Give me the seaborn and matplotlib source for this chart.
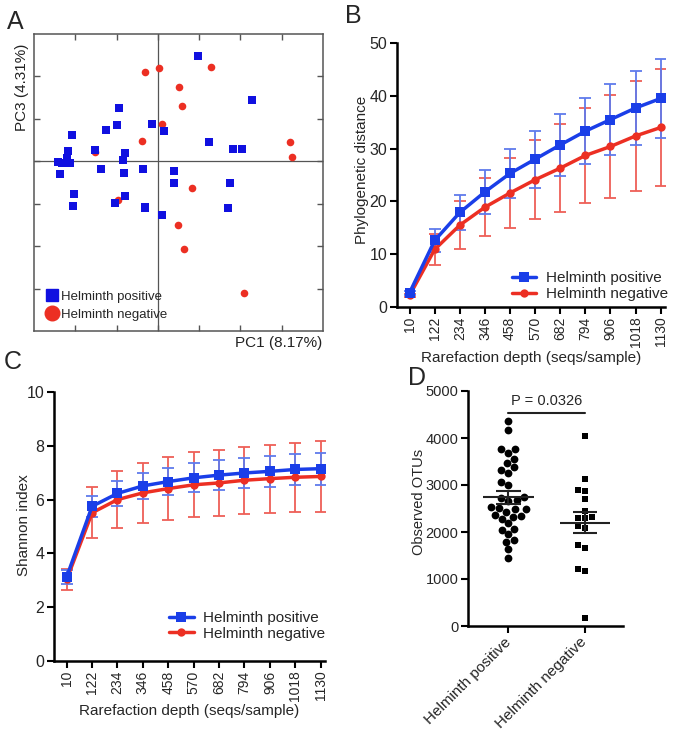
import matplotlib
matplotlib.use('Agg')
import matplotlib.pyplot as plt
import numpy as np
import pandas as pd
import seaborn as sns
from matplotlib.lines import Line2D

BLUE = '#1a3ee8'
RED = '#ec2f23'
BLUE_ERR = '#5f7bec'
RED_ERR = '#ee5f57'

# Panel A: PCoA coordinates (PC1, PC3)
pc1_pos = [0.097, 0.227, -0.095, -0.098, -0.126, -0.013, 0.014, -0.208, 0.124, 0.181,
           0.205, -0.217, -0.152, -0.080, -0.084, -0.221, -0.243, -0.233, -0.213, -0.238,
           -0.138, -0.082, -0.035, 0.039, 0.039, 0.175, -0.202, -0.080, -0.206, -0.105,
           -0.031, -0.031, 0.010, 0.169]
pc3_pos = [0.247, 0.145, 0.126, 0.085, 0.074, 0.089, 0.071, 0.063, 0.045, 0.030,
           0.028, 0.024, 0.027, 0.020, 0.002, 0.007, -0.002, -0.005, -0.005, -0.030,
           -0.019, -0.028, -0.019, -0.023, -0.051, -0.052, -0.076, -0.081, -0.106, -0.099,
           -0.107, -0.111, -0.126, -0.111]
pc1_neg = [-0.031, 0.002, 0.129, 0.052, 0.058, 0.010, -0.039, -0.153, 0.320, 0.324,
           0.082, -0.096, 0.049, 0.063, 0.209]
pc3_neg = [0.211, 0.220, 0.223, 0.175, 0.130, 0.089, 0.048, 0.021, 0.046, 0.010,
           -0.062, -0.091, -0.149, -0.207, -0.311]

# Panels B and C: rarefaction curves (mean and error)
depths = ['10', '122', '234', '346', '458', '570', '682', '794', '906', '1018', '1130']
pd_pos_mean = [2.7, 12.6, 17.9, 21.8, 25.3, 28.0, 30.7, 33.3, 35.5, 37.7, 39.5]
pd_pos_err = [0.4, 2.2, 3.3, 4.1, 4.7, 5.4, 5.9, 6.2, 6.8, 7.0, 7.5]
pd_neg_mean = [2.2, 10.9, 15.5, 18.9, 21.6, 24.1, 26.3, 28.7, 30.4, 32.4, 34.0]
pd_neg_err = [0.3, 3.0, 4.6, 5.5, 6.7, 7.5, 8.3, 9.0, 9.8, 10.4, 11.0]
sh_pos_mean = [3.13, 5.75, 6.23, 6.51, 6.67, 6.81, 6.91, 6.99, 7.05, 7.12, 7.15]
sh_pos_err = [0.25, 0.38, 0.45, 0.49, 0.51, 0.54, 0.55, 0.56, 0.57, 0.58, 0.59]
sh_neg_mean = [3.03, 5.51, 6.00, 6.25, 6.41, 6.55, 6.62, 6.72, 6.78, 6.83, 6.86]
sh_neg_err = [0.40, 0.95, 1.07, 1.11, 1.18, 1.21, 1.23, 1.25, 1.26, 1.29, 1.31]

# Panel D: observed OTUs per sample
otu_pos = [4362, 4170, 3759, 3759, 3674, 3553, 3475, 3376, 3319, 3248, 3071, 3007,
           2716, 2666, 2681, 2738, 2539, 2482, 2482, 2504, 2419, 2347, 2277, 2326,
           2362, 2185, 2064, 2043, 1950, 1830, 1790, 1631, 1440]
otu_neg = [4050, 3128, 2865, 2887, 2696, 2454, 2319, 2291, 2291, 2135, 2092, 1667,
           1723, 1213, 1170, 177]
groups = ['Helminth positive', 'Helminth negative']
p_label = 'P = 0.0326'

sns.set_theme(style='ticks')
plt.rcParams['font.family'] = ['Liberation Sans', 'DejaVu Sans']

W, H = 678, 734
fig = plt.figure(figsize=(W / 100, H / 100), dpi=100)


def px_axes(left, top, right, bottom):
    return fig.add_axes([left / W, 1 - bottom / H, (right - left) / W, (bottom - top) / H])


# ---- Panel A ----
axA = px_axes(34, 34, 323, 331)
dfA = pd.DataFrame({
    'PC1': pc1_neg + pc1_pos,
    'PC3': pc3_neg + pc3_pos,
    'group': ['Helminth negative'] * len(pc1_neg) + ['Helminth positive'] * len(pc1_pos),
})
axA.axhline(0, color='#555555', lw=0.9, zorder=1)
axA.axvline(0, color='#555555', lw=0.9, zorder=1)
sns.scatterplot(data=dfA[dfA.group == 'Helminth negative'], x='PC1', y='PC3', color=RED,
                marker='o', s=30, linewidth=0, ax=axA, zorder=3)
sns.scatterplot(data=dfA[dfA.group == 'Helminth positive'], x='PC1', y='PC3', color='#1010e0',
                marker='s', s=30, linewidth=0, ax=axA, zorder=4)
axA.set_xlim(-0.3, 0.4)
axA.set_ylim(-0.4, 0.3)
axA.set_xticks(np.arange(-0.2, 0.35, 0.1))
axA.set_yticks(np.arange(-0.3, 0.25, 0.1))
axA.tick_params(direction='in', top=True, right=True, length=4, width=1,
                color='#555555', labelleft=False, labelbottom=False)
for sp in axA.spines.values():
    sp.set_color('#555555')
    sp.set_linewidth(1.1)
axA.set_xlabel('')
axA.set_ylabel('')
handlesA = [Line2D([], [], marker='s', ls='none', color='#1010e0', markersize=9),
            Line2D([], [], marker='o', ls='none', color=RED, markersize=10.5)]
axA.legend(handlesA, groups, frameon=False, loc='lower left', fontsize=9.5,
           handlelength=0.8, handletextpad=0.3, labelspacing=0.45,
           bbox_to_anchor=(0.025, 0.016), borderaxespad=0)
fig.text(22 / W, 1 - 87 / H, 'PC3 (4.31%)', rotation=90, ha='center', va='center',
         fontsize=11, color='#222222')
fig.text(279 / W, 1 - 343 / H, 'PC1 (8.17%)', ha='center', va='center',
         fontsize=11, color='#222222')


# ---- Panels B and C ----
def rarefaction(ax, pos_mean, pos_err, neg_mean, neg_err, ymax, ylabel, legend_anchor):
    idx = np.arange(len(depths))
    ax.errorbar(idx, neg_mean, yerr=neg_err, fmt='none', ecolor=RED_ERR, elinewidth=1.3,
                capsize=4.5, capthick=1.3, zorder=2)
    ax.errorbar(idx, pos_mean, yerr=pos_err, fmt='none', ecolor=BLUE_ERR, elinewidth=1.3,
                capsize=4.5, capthick=1.3, zorder=2)
    sns.lineplot(x=idx, y=pos_mean, color=BLUE, marker='s', markersize=6.5,
                 markeredgewidth=0, lw=2.5, ax=ax, label='Helminth positive', zorder=4)
    sns.lineplot(x=idx, y=neg_mean, color=RED, marker='o', markersize=6,
                 markeredgewidth=0, lw=2.5, ax=ax, label='Helminth negative', zorder=3)
    ax.set_xlim(-0.5, 10.17)
    ax.set_ylim(0, ymax)
    ax.set_xticks(idx)
    ax.set_xticklabels(depths, rotation=90, fontsize=10)
    ax.tick_params(axis='y', labelsize=11.5)
    ax.tick_params(direction='out', length=5, width=1.5, color='black', pad=2)
    for side in ('top', 'right'):
        ax.spines[side].set_visible(False)
    for side in ('left', 'bottom'):
        ax.spines[side].set_linewidth(1.8)
        ax.spines[side].set_color('black')
    ax.set_xlabel('Rarefaction depth (seqs/sample)', fontsize=11)
    ax.set_ylabel(ylabel, fontsize=11)
    ax.legend(frameon=False, loc='lower right', fontsize=11, handlelength=1.6,
              handletextpad=0.6, labelspacing=0.1, bbox_to_anchor=legend_anchor,
              borderaxespad=0)


axB = px_axes(397, 43, 665, 307)
rarefaction(axB, pd_pos_mean, pd_pos_err, pd_neg_mean, pd_neg_err, 50,
            'Phylogenetic distance', (1.033, 0.0))
axB.set_yticks(range(0, 51, 10))
axB.xaxis.set_label_coords(0.5, -0.165)
axB.yaxis.set_label_coords(-0.105, 0.52)

axC = px_axes(54, 392, 325, 661)
rarefaction(axC, sh_pos_mean, sh_pos_err, sh_neg_mean, sh_neg_err, 10,
            'Shannon index', (1.022, 0.053))
axC.set_yticks(range(0, 11, 2))
axC.xaxis.set_label_coords(0.5, -0.16)
axC.yaxis.set_label_coords(-0.085, 0.505)

# ---- Panel D ----
axD = px_axes(468, 391, 623, 626)
dfD = pd.DataFrame({
    'group': [groups[0]] * len(otu_pos) + [groups[1]] * len(otu_neg),
    'otus': otu_pos + otu_neg,
})
sns.swarmplot(data=dfD[dfD.group == groups[0]], x='group', y='otus', order=groups,
              color='black', marker='o', size=5.6, ax=axD, zorder=3)
sns.swarmplot(data=dfD[dfD.group == groups[1]], x='group', y='otus', order=groups,
              color='black', marker='s', size=5, ax=axD, zorder=3)
for i, vals in enumerate([otu_pos, otu_neg]):
    v = np.asarray(vals, dtype=float)
    m = v.mean()
    se = v.std(ddof=1) / np.sqrt(len(v))
    axD.hlines(m, i - 0.33, i + 0.33, color='#222222', lw=1.5, zorder=4)
    axD.vlines(i, m - se, m + se, color='#222222', lw=1.5, zorder=4)
    axD.hlines([m - se, m + se], i - 0.16, i + 0.16, color='#222222', lw=1.5, zorder=4)
axD.plot([0, 1], [4540, 4540], color='#222222', lw=1.5)
axD.text(0.5, 4640, p_label, ha='center', va='bottom', fontsize=10.5)
axD.set_xlim(-0.53, 1.5)
axD.set_ylim(0, 5000)
axD.set_yticks(range(0, 5001, 1000))
axD.set_xticklabels(groups, rotation=45, ha='right', va='center',
                    rotation_mode='anchor', fontsize=11)
axD.tick_params(axis='y', labelsize=10.5)
axD.tick_params(direction='out', length=5, width=1.5, color='black', pad=2)
axD.tick_params(axis='x', pad=5)
for side in ('top', 'right'):
    axD.spines[side].set_visible(False)
for side in ('left', 'bottom'):
    axD.spines[side].set_linewidth(1.8)
    axD.spines[side].set_color('black')
axD.set_xlabel('')
axD.set_ylabel('Observed OTUs', fontsize=10.5)
axD.yaxis.set_label_coords(-0.27, 0.53)

# panel letters
for letter, x, y in [('A', 15, 22), ('B', 353, 16), ('C', 13, 362), ('D', 417, 378)]:
    fig.text(x / W, 1 - y / H, letter, fontsize=18, ha='center', va='center')

fig.savefig('out.png', dpi=100)
